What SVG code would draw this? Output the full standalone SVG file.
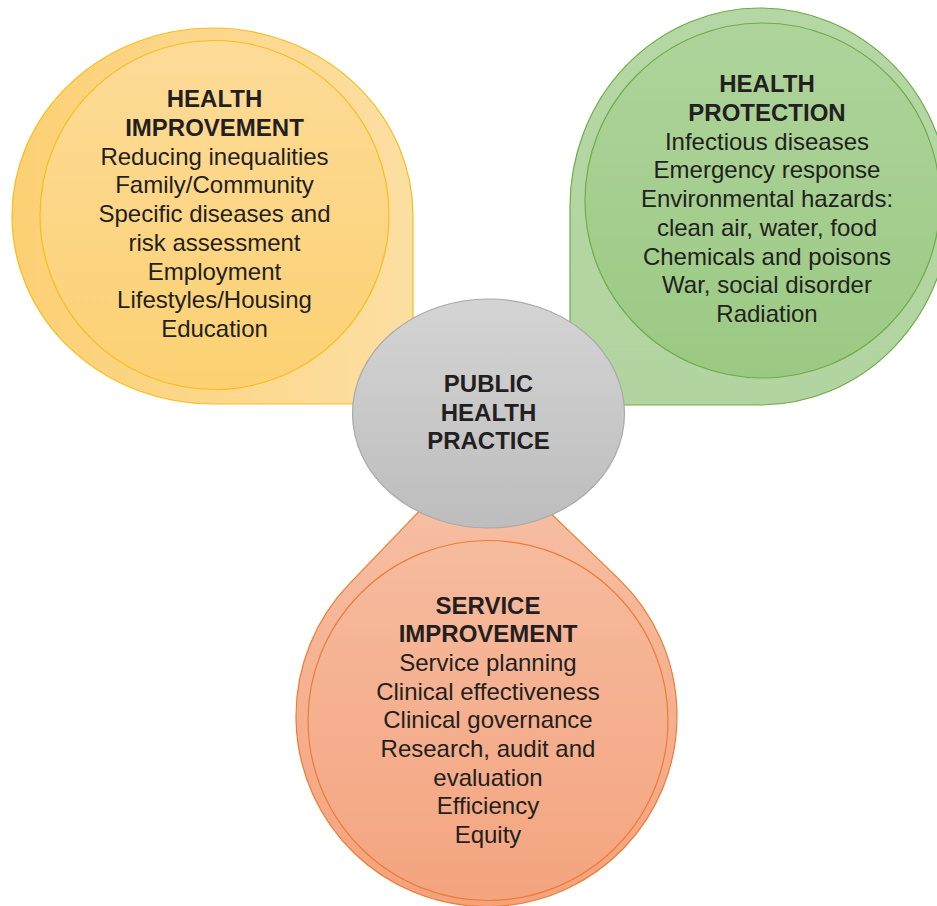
<svg xmlns="http://www.w3.org/2000/svg" width="937" height="906" viewBox="0 0 937 906">
  <defs>
    <linearGradient id="yOuter" x1="0" y1="0" x2="1" y2="0">
      <stop offset="0" stop-color="#fcd074"/>
      <stop offset="1" stop-color="#fddfa3"/>
    </linearGradient>
    <linearGradient id="yInner" x1="0" y1="0" x2="0" y2="1">
      <stop offset="0" stop-color="#fddb98"/>
      <stop offset="1" stop-color="#fcd173"/>
    </linearGradient>
    <linearGradient id="gOuter" x1="0" y1="0" x2="0" y2="1">
      <stop offset="0" stop-color="#b4d7a5"/>
      <stop offset="1" stop-color="#b1d4a0"/>
    </linearGradient>
    <linearGradient id="gInner" x1="0" y1="0" x2="0" y2="1">
      <stop offset="0" stop-color="#aed49b"/>
      <stop offset="1" stop-color="#9bc983"/>
    </linearGradient>
    <linearGradient id="oOuter" x1="0" y1="0" x2="0" y2="1">
      <stop offset="0" stop-color="#f7c2a8"/>
      <stop offset="1" stop-color="#f4a27e"/>
    </linearGradient>
    <linearGradient id="oInner" x1="0" y1="0" x2="0" y2="1">
      <stop offset="0" stop-color="#f6bb9e"/>
      <stop offset="1" stop-color="#f4a47f"/>
    </linearGradient>
    <linearGradient id="grey" x1="0" y1="0" x2="0" y2="1">
      <stop offset="0" stop-color="#d4d4d4"/>
      <stop offset="1" stop-color="#bdbdbd"/>
    </linearGradient>
  </defs>
  <style>
    text { font-family: "Liberation Sans", Arial, sans-serif; font-size: 24px; fill: #231f20; text-anchor: middle; }
    .h { font-weight: bold; }
    .ys { stroke: #f9bd1a; stroke-width: 1.2; }
    .gs { stroke: #70ad47; stroke-width: 1.2; }
    .os { stroke: #ed7d31; stroke-width: 1.2; }
  </style>

  <g id="health-improvement">
    <path class="ys" fill="url(#yOuter)" d="M12,216 A200.5,188 0 0 1 212.5,28 A200.5,188 0 0 1 413,216 L413,404 L212.5,404 A200.5,188 0 0 1 12,216 Z"/>
    <circle class="ys" fill="url(#yInner)" cx="214.5" cy="215" r="174.5"/>
    <text class="h" x="214.5" y="107.3">HEALTH</text>
    <text class="h" x="214.5" y="136">IMPROVEMENT</text>
    <text x="214.5" y="164.7">Reducing inequalities</text>
    <text x="214.5" y="193.4">Family/Community</text>
    <text x="214.5" y="222.1">Specific diseases and</text>
    <text x="214.5" y="250.8">risk assessment</text>
    <text x="214.5" y="279.5">Employment</text>
    <text x="214.5" y="308.2">Lifestyles/Housing</text>
    <text x="214.5" y="336.9">Education</text>
  </g>

  <g id="health-protection">
    <path class="gs" fill="url(#gOuter)" d="M570,206.5 A190,198.5 0 0 1 760,8 A190,198.5 0 0 1 950,206.5 A190,198.5 0 0 1 760,405 L570,405 Z"/>
    <circle class="gs" fill="url(#gInner)" cx="762.5" cy="200.5" r="177.5"/>
    <text class="h" x="767" y="92.3">HEALTH</text>
    <text class="h" x="767" y="121">PROTECTION</text>
    <text x="767" y="149.7">Infectious diseases</text>
    <text x="767" y="178.4">Emergency response</text>
    <text x="767" y="207.1">Environmental hazards:</text>
    <text x="767" y="235.8">clean air, water, food</text>
    <text x="767" y="264.5">Chemicals and poisons</text>
    <text x="767" y="293.2">War, social disorder</text>
    <text x="767" y="321.9">Radiation</text>
  </g>

  <g id="service-improvement">
    <path class="os" fill="url(#oOuter)" d="M481.5,446.5 L618.7,578.9 A190.5,190.5 0 1 1 349.3,583.9 Z"/>
    <circle class="os" fill="url(#oInner)" cx="488" cy="720.5" r="180"/>
    <text class="h" x="488" y="613.5">SERVICE</text>
    <text class="h" x="488" y="642.2">IMPROVEMENT</text>
    <text x="488" y="670.9">Service planning</text>
    <text x="488" y="699.6">Clinical effectiveness</text>
    <text x="488" y="728.3">Clinical governance</text>
    <text x="488" y="757">Research, audit and</text>
    <text x="488" y="785.7">evaluation</text>
    <text x="488" y="814.4">Efficiency</text>
    <text x="488" y="843.1">Equity</text>
  </g>

  <g id="public-health-practice">
    <ellipse fill="url(#grey)" stroke="#a9a9a9" stroke-width="1.2" cx="488.5" cy="413.5" rx="136" ry="114.5"/>
    <text class="h" x="488.5" y="391.7">PUBLIC</text>
    <text class="h" x="488.5" y="420.5">HEALTH</text>
    <text class="h" x="488.5" y="449.3">PRACTICE</text>
  </g>
</svg>
